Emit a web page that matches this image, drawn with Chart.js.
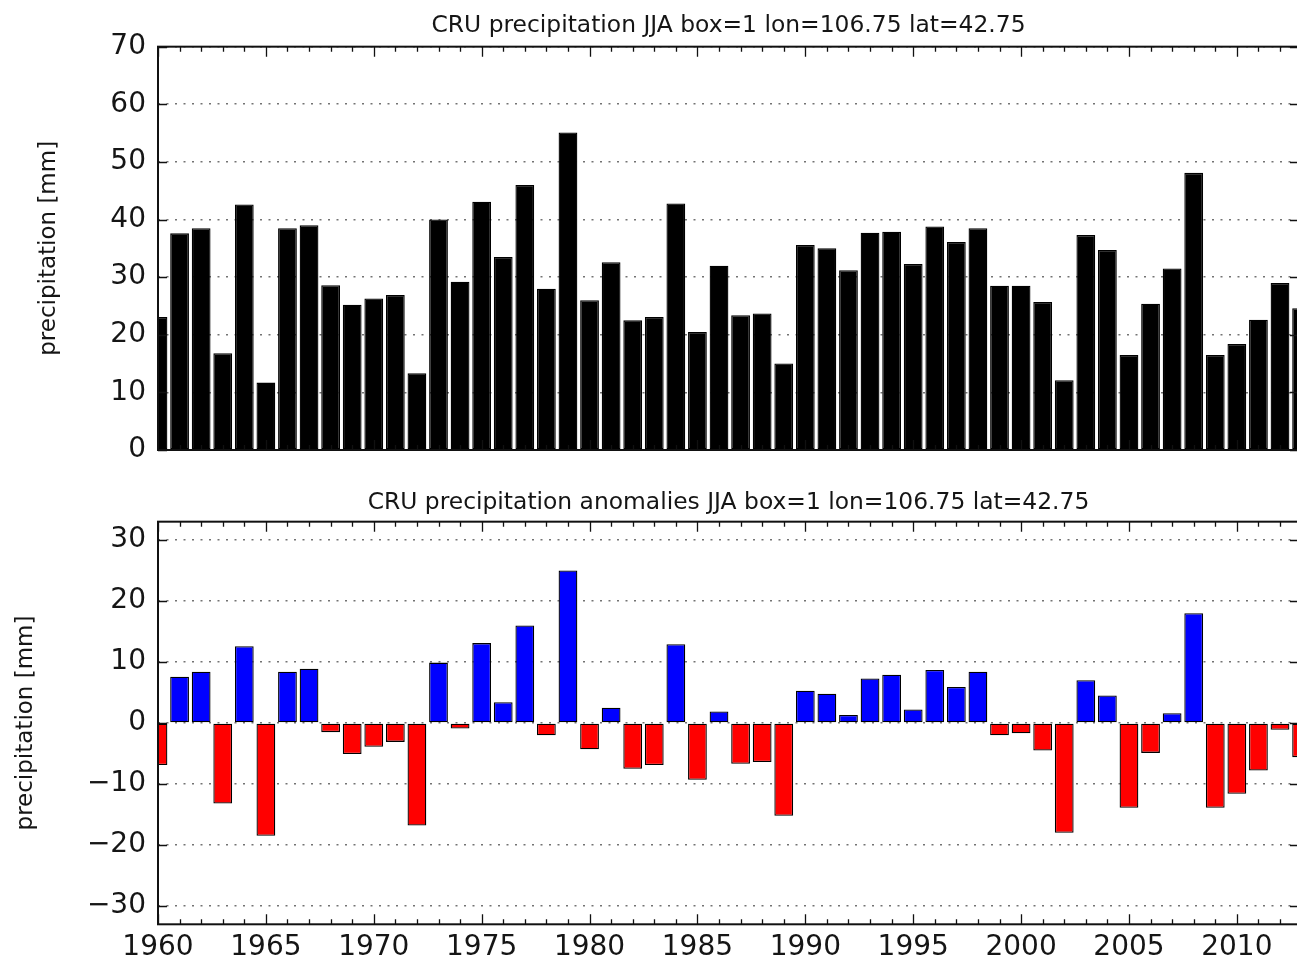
<!DOCTYPE html>
<html><head><meta charset="utf-8">
<script src="https://cdn.jsdelivr.net/npm/chart.js@4.4.0/dist/chart.umd.min.js"></script>
<style>
html,body{margin:0;padding:0;background:#fff;overflow:hidden;width:1297px;height:961px;}
#c1{position:absolute;left:0;top:0;}
#c2{position:absolute;left:0;top:480px;}
</style></head><body>
<canvas id="c1" width="1300" height="480"></canvas>
<canvas id="c2" width="1300" height="490"></canvas>
<script>
const years = [1960,1961,1962,1963,1964,1965,1966,1967,1968,1969,
  1970,1971,1972,1973,1974,1975,1976,1977,1978,1979,
  1980,1981,1982,1983,1984,1985,1986,1987,1988,1989,
  1990,1991,1992,1993,1994,1995,1996,1997,1998,1999,
  2000,2001,2002,2003,2004,2005,2006,2007,2008,2009,
  2010,2011,2012,2013];
const precipitation = [23.1,37.6,38.5,16.8,42.6,11.7,38.5,39.0,28.6,25.2,
  26.3,26.9,13.3,40.0,29.2,43.1,33.5,46.0,28.0,55.1,
  26.0,32.6,22.5,23.1,42.8,20.5,32.0,23.4,23.7,15.0,
  35.6,35.0,31.2,37.7,37.9,32.3,38.8,36.1,38.5,28.5,
  28.5,25.7,12.1,37.3,34.7,16.5,25.4,31.5,48.1,16.5,
  18.4,22.6,29.0,24.6];
const anomalies = [-6.9,7.6,8.4,-13.2,12.6,-18.5,8.4,8.9,-1.5,-5.1,
  -3.9,-3.1,-16.8,9.9,-0.9,13.1,3.4,16.0,-2.0,25.0,
  -4.3,2.5,-7.5,-6.9,12.9,-9.3,1.9,-6.7,-6.4,-15.2,
  5.3,4.8,1.3,7.3,7.9,2.2,8.7,5.9,8.4,-2.0,
  -1.7,-4.5,-18.0,7.0,4.5,-13.9,-4.9,1.6,18.0,-13.9,
  -11.6,-7.8,-1.1,-5.6];
const precipTicks = [0,10,20,30,40,50,60,70];
const anomalyTicks = [-30,-20,-10,0,10,20,30];
const yearTicks = [1960,1965,1970,1975,1980,1985,1990,1995,2000,2005,2010];
const topTitle = 'CRU precipitation JJA box=1 lon=106.75 lat=42.75';
const bottomTitle = 'CRU precipitation anomalies JJA box=1 lon=106.75 lat=42.75';
const yLabel = 'precipitation [mm]';

const FONT = 'DejaVu Sans';
const TXT = '#151515';
const X_MIN = 1960, X_MAX = 2012.88;

const frameTicks = {
  id: 'frameTicks',
  afterDatasetsDraw(chart) {
    const {ctx, chartArea: a, scales: {x, y}} = chart;
    ctx.save();
    ctx.strokeStyle = '#111';
    ctx.lineWidth = 1.3;
    ctx.beginPath();
    y.ticks.forEach(t => {
      const py = Math.round(y.getPixelForValue(t.value)) + 0.5;
      ctx.moveTo(a.left, py); ctx.lineTo(a.left + 9, py);
      ctx.moveTo(a.right, py); ctx.lineTo(a.right - 9, py);
    });
    for (let yr = Math.ceil(x.min); yr <= x.max; yr++) {
      const px = Math.round(x.getPixelForValue(yr)) + 0.5;
      const len = yr % 5 === 0 ? 10 : 5;
      ctx.moveTo(px, a.top); ctx.lineTo(px, a.top + len);
      ctx.moveTo(px, a.bottom); ctx.lineTo(px, a.bottom - len);
    }
    ctx.stroke();
    ctx.lineWidth = 2;
    ctx.strokeRect(a.left, a.top, a.right - a.left, a.bottom - a.top);
    ctx.restore();
  }
};

function fmtNum(v) { return v < 0 ? '\u2212' + Math.abs(v) : String(v); }

function makeChart(id, values, colors, yTicks, yMin, yMax, title, titlePad, yTitlePad, xHeight, showXLabels) {
  return new Chart(document.getElementById(id), {
    type: 'bar',
    data: {
      datasets: [{
        data: years.map((yr, i) => ({x: yr, y: values[i]})),
        backgroundColor: colors,
        borderColor: '#000',
        borderWidth: 1.3,
        borderSkipped: false,
        categoryPercentage: 1,
        barPercentage: 0.87,
        clip: 0
      }]
    },
    options: {
      responsive: false,
      animation: false,
      events: [],
      layout: {padding: {left: 0, right: 1, top: 0, bottom: 0}},
      plugins: {
        legend: {display: false},
        tooltip: {enabled: false},
        title: {
          display: true, text: title, fullSize: false,
          color: TXT, font: {family: FONT, size: 23.4, weight: 'normal'},
          padding: titlePad
        }
      },
      scales: {
        x: {
          type: 'linear', min: X_MIN, max: X_MAX, offset: false,
          afterBuildTicks: s => { s.ticks = yearTicks.map(v => ({value: v})); },
          afterFit: s => { s.height = xHeight; },
          grid: {display: false, drawTicks: false},
          border: {display: false},
          ticks: {
            display: showXLabels, padding: 6.5, maxRotation: 0, autoSkip: false,
            color: TXT, font: {family: FONT, size: 28},
            callback: v => String(v)
          }
        },
        y: {
          type: 'linear', min: yMin, max: yMax,
          afterBuildTicks: s => { s.ticks = yTicks.map(v => ({value: v})); },
          afterFit: s => { s.width = 158; },
          grid: {color: 'rgba(0,0,0,0.55)', lineWidth: 1.6, drawTicks: false},
          border: {display: false, dash: [2, 6.5]},
          ticks: {
            padding: 12, color: TXT, font: {family: FONT, size: 28},
            callback: v => fmtNum(v)
          },
          title: {
            display: true, text: yLabel, color: TXT,
            font: {family: FONT, size: 23}, padding: {top: yTitlePad, bottom: 0}
          }
        }
      }
    },
    plugins: [frameTicks]
  });
}

makeChart('c1', precipitation, '#000000', precipTicks, 0, 70, topTitle,
  {top: 12.3, bottom: 6.3}, 35, 30, false);
makeChart('c2', anomalies, anomalies.map(v => v >= 0 ? '#0000ff' : '#ff0000'),
  anomalyTicks, -33, 33, bottomTitle, {top: 8.5, bottom: 5.1}, 12, 45.7, true);
</script>
</body></html>
